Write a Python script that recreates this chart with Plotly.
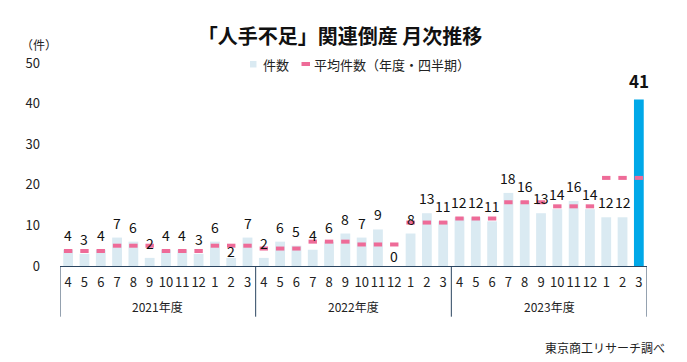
import plotly.graph_objects as go

# ---- data ----
month_labels = ["4", "5", "6", "7", "8", "9", "10", "11", "12", "1", "2", "3",
                "4", "5", "6", "7", "8", "9", "10", "11", "12", "1", "2", "3",
                "4", "5", "6", "7", "8", "9", "10", "11", "12", "1", "2", "3"]
fiscal_years = ["2021年度", "2022年度", "2023年度"]
counts = [4, 3, 4, 7, 6, 2, 4, 4, 3, 6, 2, 7,
          2, 6, 5, 4, 6, 8, 7, 9, 0, 8, 13, 11,
          12, 12, 11, 18, 16, 13, 14, 16, 14, 12, 12, 41]
quarter_avg = [3.7, 3.7, 3.7, 5.0, 5.0, 5.0, 3.7, 3.7, 3.7, 5.0, 5.0, 5.0,
               4.3, 4.3, 4.3, 6.0, 6.0, 6.0, 5.3, 5.3, 5.3, 10.7, 10.7, 10.7,
               11.7, 11.7, 11.7, 15.7, 15.7, 15.7, 14.7, 14.7, 14.7, 21.7, 21.7, 21.7]
series_names = ["件数", "平均件数（年度・四半期）"]

FONT = "Noto Sans CJK JP"
LIGHT = "#DAEAF2"
BLUE = "#00A8E8"
PINK = "#EE6B98"
LINE = "#2B4560"
TXT = "#222222"

# figure is rendered with an 8px page margin; work in figure pixels
W, H = 679, 354
L, R, T, B = 52, 40, 55, 96
PW, PH = W - L - R, H - T - B


def px(xp):   # page x -> paper x
    return (xp - 8 - L) / PW


def py(yp):   # page y -> paper y
    return (H - B - (yp - 8)) / PH


x = list(range(len(counts)))
bar_colors = [LIGHT] * (len(counts) - 1) + [BLUE]

fig = go.Figure()
fig.add_trace(go.Bar(x=x, y=counts, name=series_names[0],
                     marker=dict(color=bar_colors, line=dict(width=0)),
                     width=0.6, showlegend=False, hoverinfo="y"))
fig.add_trace(go.Scatter(x=x, y=quarter_avg, mode="markers", name=series_names[1],
                         showlegend=False,
                         marker=dict(symbol="line-ew", size=6, color=PINK,
                                     line=dict(width=4, color=PINK))))

# value labels
special_shift = {10: 7, 20: 10}
annotations = []
for i, v in enumerate(counts):
    last = i == len(counts) - 1
    annotations.append(dict(
        x=i, y=v, xref="x", yref="y",
        text=f"<b>{v}</b>" if last else str(v), showarrow=False,
        yanchor="middle", yshift=19 if last else special_shift.get(i, 15),
        font=dict(family=FONT, size=17 if last else 14, color="#111111"),
    ))

# fiscal year labels
for k, fy in enumerate(fiscal_years):
    annotations.append(dict(
        x=k * 12 + 5.5, y=py(306.5), xref="x", yref="paper", text=fy, showarrow=False,
        yanchor="middle", font=dict(family=FONT, size=12, color=TXT)))

annotations.append(dict(x=px(38.5), y=py(44), xref="paper", yref="paper", text="（件）",
                        showarrow=False, xanchor="center", yanchor="middle",
                        font=dict(family=FONT, size=12, color=TXT)))
annotations.append(dict(x=px(667), y=py(347.5), xref="paper", yref="paper",
                        text="東京商工リサーチ調べ",
                        showarrow=False, xanchor="right", yanchor="middle",
                        font=dict(family=FONT, size=12, color=TXT)))

# legend (drawn manually for exact spacing)
annotations.append(dict(x=px(261), y=py(64), xref="paper", yref="paper", text=series_names[0],
                        showarrow=False, xanchor="left", yanchor="middle",
                        font=dict(family=FONT, size=13, color=TXT)))
annotations.append(dict(x=px(312), y=py(64), xref="paper", yref="paper", text=series_names[1],
                        showarrow=False, xanchor="left", yanchor="middle",
                        font=dict(family=FONT, size=13, color=TXT)))

shapes = []
for xb in [-0.5, 11.5, 23.5, 35.5]:
    shapes.append(dict(type="line", xref="x", yref="paper", x0=xb, x1=xb, y0=0, y1=py(316.7),
                       line=dict(color=LINE, width=1)))
shapes.append(dict(type="rect", xref="paper", yref="paper", x0=px(250), x1=px(256.5),
                   y0=py(67.5), y1=py(61), fillcolor=LIGHT, line=dict(width=0)))
shapes.append(dict(type="line", xref="paper", yref="paper", x0=px(301.5), x1=px(310),
                   y0=py(64), y1=py(64), line=dict(color=PINK, width=4)))

fig.update_layout(
    width=W, height=H,
    margin=dict(l=L, r=R, t=T, b=B, autoexpand=False),
    paper_bgcolor="white", plot_bgcolor="white",
    font=dict(family=FONT, size=13, color=TXT),
    title=dict(text="<b>「人手不足」関連倒産 月次推移</b>", x=(340 - 8) / W, y=1 - (37 - 8) / H,
               xanchor="center", yanchor="middle",
               font=dict(family=FONT, size=20, color="#111111")),
    showlegend=False,
    bargap=0.4,
    xaxis=dict(range=[-0.5, 35.5], tickmode="array", tickvals=x, ticktext=month_labels,
               showline=True, linecolor=LINE, linewidth=1, ticks="", showgrid=False,
               zeroline=False, tickfont=dict(family=FONT, size=13, color=TXT),
               tickangle=0, automargin=False,
               ticklabelstandoff=4, fixedrange=True),
    yaxis=dict(range=[0, 50], tickmode="array", tickvals=[0, 10, 20, 30, 40, 50],
               showline=False, showgrid=False, zeroline=False, ticks="",
               tickfont=dict(family=FONT, size=13, color=TXT), ticklabelstandoff=19,
               automargin=False, fixedrange=True),
    annotations=annotations,
    shapes=shapes,
)

fig.write_html("out.html")
